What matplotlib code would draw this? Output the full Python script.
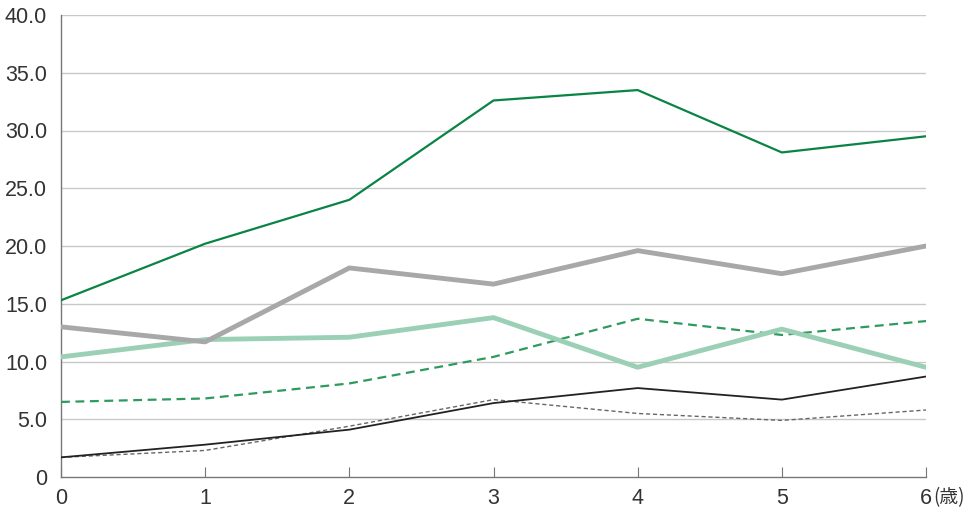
import matplotlib
matplotlib.use("Agg")
import matplotlib.pyplot as plt
from matplotlib.transforms import offset_copy

plt.rcParams['font.family'] = ['Liberation Sans', 'Noto Sans CJK JP', 'DejaVu Sans']

ages = [0, 1, 2, 3, 4, 5, 6]
x_labels = ["0", "1", "2", "3", "4", "5", "6"]
y_ticks = [0, 5, 10, 15, 20, 25, 30, 35, 40]
y_labels = ["0", "5.0", "10.0", "15.0", "20.0", "25.0", "30.0", "35.0", "40.0"]

dark_green = [15.3, 20.2, 24.0, 32.6, 33.5, 28.1, 29.5]
gray_thick = [13.0, 11.7, 18.1, 16.7, 19.6, 17.6, 20.0]
light_green = [10.4, 11.9, 12.1, 13.8, 9.5, 12.8, 9.5]
green_dashed = [6.5, 6.8, 8.1, 10.4, 13.7, 12.3, 13.5]
black_solid = [1.7, 2.8, 4.1, 6.4, 7.7, 6.7, 8.7]
gray_dashed = [1.7, 2.3, 4.4, 6.7, 5.5, 4.9, 5.8]

fig = plt.figure(figsize=(9.64, 5.13), dpi=100)
ax = fig.add_axes([61/964, 36/513, 865/964, 462/513])

# gridlines
for v in y_ticks[1:]:
    ax.axhline(v, color='#c8c8c8', lw=1.0, zorder=1)

ax.plot(ages, gray_dashed, color='#666666', lw=1.0, ls=(0, (3, 2)), zorder=3)
ax.plot(ages, black_solid, color='#222222', lw=1.3, zorder=3)
ax.plot(ages, green_dashed, color='#2e9a5e', lw=1.6, ls=(0, (4, 2.5)), zorder=3)
ax.plot(ages, light_green, color='#9bd0b7', lw=3.5, zorder=3)
ax.plot(ages, gray_thick, color='#a8a8a8', lw=3.5, zorder=3)
ax.plot(ages, dark_green, color='#0a8444', lw=1.6, zorder=4)

ax.set_xlim(0, 6)
ax.set_ylim(0, 40)
ax.set_xticks(ages)
ax.set_xticklabels(x_labels)
ax.set_yticks(y_ticks)
ax.set_yticklabels(y_labels)

for s in ['top', 'right']:
    ax.spines[s].set_visible(False)
for s in ['left', 'bottom']:
    ax.spines[s].set_color('#777777')
    ax.spines[s].set_linewidth(1.0)

ax.tick_params(axis='x', direction='in', length=7, color='#777777', pad=8,
               labelsize=15.5, labelcolor='#333333')
ax.tick_params(axis='y', length=0, pad=10, labelsize=15.5, labelcolor='#333333')

# unit label next to the last tick
trans = offset_copy(ax.get_xaxis_text1_transform(8)[0], fig=fig, x=5.5, y=1, units='points')
ax.text(6, 0, "(歳)", family=['Noto Sans CJK JP'], fontsize=13.5,
        color='#333333', ha='left', va='top', transform=trans, clip_on=False)

fig.savefig("out.png", dpi=100)
